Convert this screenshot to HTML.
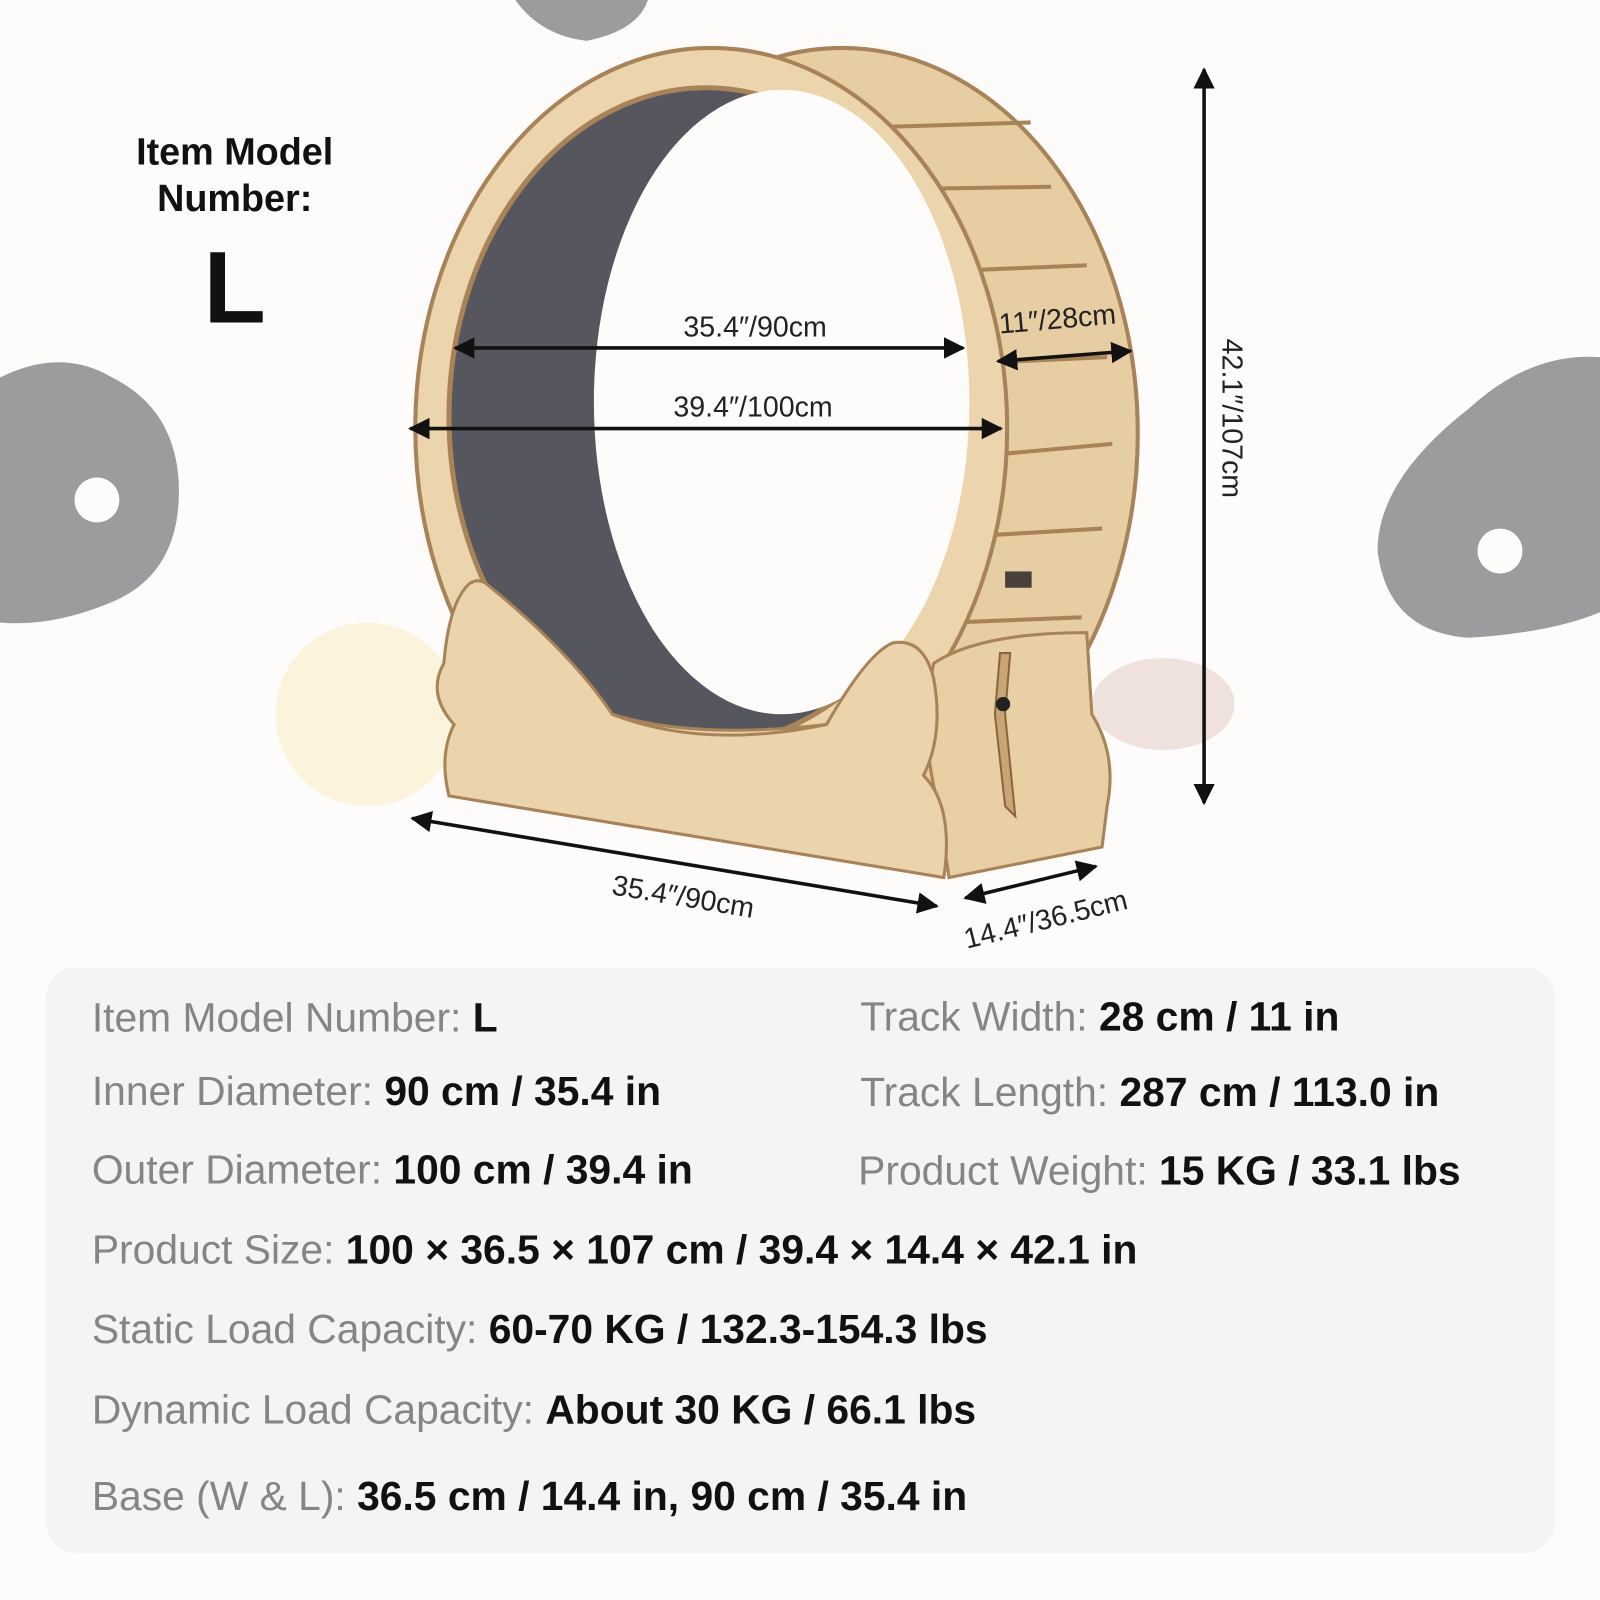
<!DOCTYPE html>
<html><head><meta charset="utf-8"><style>
html,body{margin:0;padding:0;background:#fdfcfa;}
svg{display:block}
text{font-family:"Liberation Sans",sans-serif;}
</style></head><body>
<svg width="1600" height="1600" viewBox="0 0 1568 1568" xmlns="http://www.w3.org/2000/svg">
<rect width="1568" height="1568" fill="#fdfcfa"/>
<path d="M0 370 Q60 340 110 370 Q170 400 175 470 Q180 560 110 590 Q50 615 0 610 Z" fill="#9c9c9e"/>
<circle cx="95" cy="490" r="22" fill="#fdfcfa"/>
<path d="M1568 350 Q1500 345 1440 400 Q1350 470 1350 540 Q1360 620 1440 625 Q1520 620 1568 600 Z" fill="#9c9c9e"/>
<circle cx="1470" cy="540" r="22" fill="#fdfcfa"/>
<path d="M505 0 L635 0 Q625 30 575 40 Q530 35 505 0 Z" fill="#9c9c9e"/>
<ellipse cx="360" cy="700" rx="90" ry="90" fill="#fbf3dc"/>
<ellipse cx="1140" cy="690" rx="70" ry="45" fill="#efe2dc"/>
<ellipse cx="640" cy="430" rx="40" ry="40" fill="#fbeeee"/>
<ellipse cx="825" cy="425" rx="290" ry="378" fill="#e7cda2" stroke="#a98358" stroke-width="4"/>
<g stroke="#a98358" stroke-width="4">
<line x1="845" y1="125" x2="1010" y2="120"/>
<line x1="900" y1="185" x2="1030" y2="183"/>
<line x1="945" y1="265" x2="1065" y2="260"/>
<line x1="975" y1="355" x2="1085" y2="350"/>
<line x1="980" y1="445" x2="1090" y2="435"/>
<line x1="960" y1="525" x2="1080" y2="518"/>
<line x1="935" y1="610" x2="1060" y2="605"/>
</g>
<rect x="985" y="560" width="26" height="16" fill="#4a4038"/>
<ellipse cx="697" cy="420" rx="290" ry="373" fill="#ecd5ac" stroke="#a98358" stroke-width="4"/>
<ellipse cx="692" cy="408" rx="252" ry="322" fill="#55565e" stroke="#a98358" stroke-width="5"/>
<ellipse cx="766" cy="394" rx="184" ry="306" fill="#fdfcfa"/>
<path d="M915 650 Q960 620 1065 620 L1070 700 Q1095 740 1085 790 L1080 830 L930 860 L920 790 Q900 720 915 650 Z" fill="#e8cfa4" stroke="#a98358" stroke-width="3"/>
<path d="M980 640 L975 700 L985 790 L995 800 L985 700 L990 640 Z" fill="#c9a574" stroke="#8a6640" stroke-width="2"/>
<circle cx="983" cy="690" r="7" fill="#222"/>
<path d="M460 572 Q470 565 480 575 Q560 640 600 700 Q680 725 810 710 Q850 640 875 630 Q905 625 915 665 Q925 720 905 760 Q935 790 925 860 L440 780 Q430 740 445 710 Q418 680 435 650 Q440 590 460 572 Z" fill="#ebd4ab" stroke="#a98358" stroke-width="3"/>
<path d="M600 700 Q690 735 810 710" fill="none" stroke="#a98358" stroke-width="3"/>
<defs><marker id="a" viewBox="0 0 10 10" refX="9" refY="5" markerWidth="6" markerHeight="6" orient="auto-start-reverse"><path d="M0 0 L10 5 L0 10 Z" fill="#111"/></marker></defs>
<g stroke="#111" stroke-width="3.5" marker-start="url(#a)" marker-end="url(#a)">
<line x1="446" y1="341" x2="944" y2="341"/>
<line x1="402" y1="420" x2="981" y2="420"/>
<line x1="978" y1="354" x2="1108" y2="344"/>
<line x1="1180" y1="68" x2="1180" y2="787"/>
<line x1="404" y1="802" x2="918" y2="888"/>
<line x1="946" y1="880" x2="1074" y2="849"/>
</g>
<g font-size="28" fill="#222">
<text x="740" y="330" text-anchor="middle">35.4″/90cm</text>
<text x="738" y="408" text-anchor="middle">39.4″/100cm</text>
<text x="1037" y="322" text-anchor="middle" transform="rotate(-5 1037 322)">11″/28cm</text>
<text x="1198" y="410" text-anchor="middle" transform="rotate(90 1198 410)">42.1″/107cm</text>
<text x="668" y="888" text-anchor="middle" transform="rotate(9.5 668 888)">35.4″/90cm</text>
<text x="1027" y="910" text-anchor="middle" transform="rotate(-14 1027 910)">14.4″/36.5cm</text>
</g>
<g font-weight="bold" fill="#111" text-anchor="middle">
<text x="230" y="161" font-size="37">Item Model</text>
<text x="230" y="207" font-size="37">Number:</text>
<text x="230" y="316" font-size="100">L</text>
</g>
<rect x="45" y="948" width="1479" height="574" rx="30" fill="#f4f4f4"/>
<g font-size="40" fill="#858585">
<text x="90" y="1011">Item Model Number: <tspan fill="#111" font-weight="bold">L</tspan></text>
<text x="843" y="1010">Track Width: <tspan fill="#111" font-weight="bold">28 cm / 11 in</tspan></text>
<text x="90" y="1083">Inner Diameter: <tspan fill="#111" font-weight="bold">90 cm / 35.4 in</tspan></text>
<text x="843" y="1084">Track Length: <tspan fill="#111" font-weight="bold">287 cm / 113.0 in</tspan></text>
<text x="90" y="1160">Outer Diameter: <tspan fill="#111" font-weight="bold">100 cm / 39.4 in</tspan></text>
<text x="841" y="1161">Product Weight: <tspan fill="#111" font-weight="bold">15 KG / 33.1 lbs</tspan></text>
<text x="90" y="1238">Product Size: <tspan fill="#111" font-weight="bold">100 × 36.5 × 107 cm / 39.4 × 14.4 × 42.1 in</tspan></text>
<text x="90" y="1316">Static Load Capacity: <tspan fill="#111" font-weight="bold">60-70 KG / 132.3-154.3 lbs</tspan></text>
<text x="90" y="1395">Dynamic Load Capacity: <tspan fill="#111" font-weight="bold">About 30 KG / 66.1 lbs</tspan></text>
<text x="90" y="1480">Base (W &amp; L): <tspan fill="#111" font-weight="bold">36.5 cm / 14.4 in, 90 cm / 35.4 in</tspan></text>
</g>
</svg>
</body></html>
